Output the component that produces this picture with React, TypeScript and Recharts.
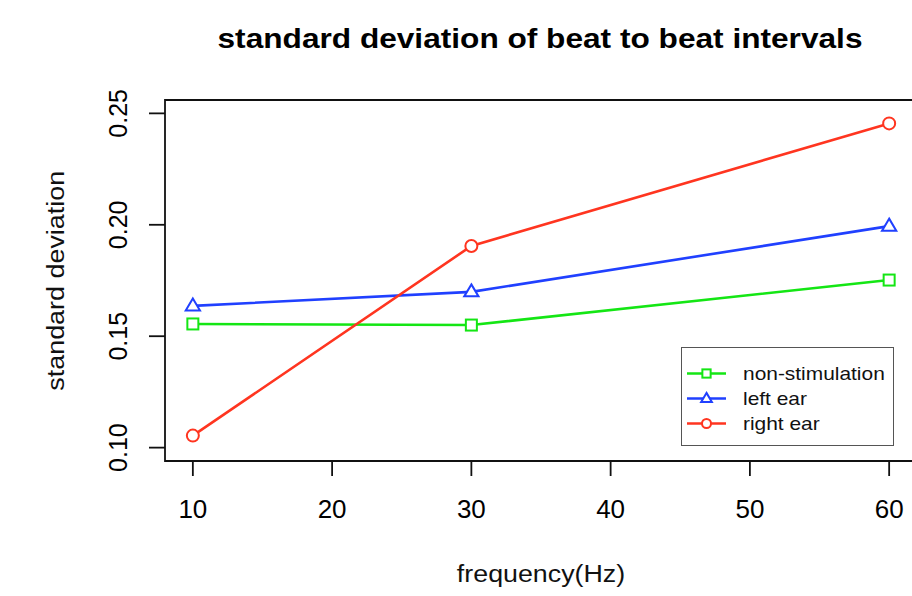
import React from 'react';
import { LineChart, Line, XAxis, YAxis, ReferenceArea } from 'recharts';

const frequencies = [10, 30, 60];
const nonStimulation = [0.1555, 0.155, 0.1752];
const leftEar = [0.1636, 0.1699, 0.1994];
const rightEar = [0.1054, 0.1905, 0.2455];

const xTicks = [10, 20, 30, 40, 50, 60];
const yTicks = [0.1, 0.15, 0.2, 0.25];

const seriesInfo = [
  { key: 'nonStim', name: 'non-stimulation', color: '#14e614', shape: 'square' },
  { key: 'left', name: 'left ear', color: '#2040ff', shape: 'triangle' },
  { key: 'right', name: 'right ear', color: '#ff3520', shape: 'circle' },
];

const data = frequencies.map((f, i) => ({
  freq: f,
  nonStim: nonStimulation[i],
  left: leftEar[i],
  right: rightEar[i],
}));

const FONT = '"Liberation Sans", Arial, Helvetica, sans-serif';

const Marker = ({ shape, cx, cy, color, size = 1 }: any) => {
  if (shape === 'square') {
    const h = 5.5 * size;
    return <rect x={cx - h} y={cy - h} width={h * 2} height={h * 2} fill="#fff" stroke={color} strokeWidth={2} />;
  }
  if (shape === 'triangle') {
    const r = 7.5 * size;
    const pts = `${cx},${cy - r} ${cx + r * 0.95},${cy + r * 0.6} ${cx - r * 0.95},${cy + r * 0.6}`;
    return <polygon points={pts} fill="#fff" stroke={color} strokeWidth={2} />;
  }
  return <circle cx={cx} cy={cy} r={6 * size} fill="#fff" stroke={color} strokeWidth={2} />;
};

const makeDot = (shape: string, color: string) => (props: any) => {
  const { cx, cy, index } = props;
  return (
    <g key={`${shape}-${index}`}>
      <Marker shape={shape} cx={cx} cy={cy} color={color} />
    </g>
  );
};

const XTick = ({ x, y, payload }: any) => (
  <text x={x} y={y + 40} textAnchor="middle" fontSize={26} fontFamily={FONT} fill="#000">
    {payload.value}
  </text>
);

const YTick = ({ x, y, payload }: any) => {
  const bx = x - 20;
  return (
    <text
      x={bx}
      y={y}
      textAnchor="middle"
      fontSize={25}
      fontFamily={FONT}
      fill="#000"
      transform={`rotate(-90, ${bx}, ${y})`}
    >
      {payload.value.toFixed(2)}
    </text>
  );
};

const App: React.FC = () => {
  return (
    <div style={{
      position: 'absolute', left: 0, top: 0, width: 912, height: 596,
      overflow: 'hidden', background: '#fff', fontFamily: FONT,
    }}>
      <div style={{
        position: 'absolute', left: 0, width: 1080, top: 25, fontSize: 27.5, lineHeight: 1,
        fontWeight: 'bold', textAlign: 'center', whiteSpace: 'nowrap', transform: 'scaleX(1.15)',
      }}>
        standard deviation of beat to beat intervals
      </div>

      <LineChart width={940} height={596} data={data} margin={{ top: 100, right: 23, bottom: 10, left: 0 }}>
        <ReferenceArea
          x1={8} x2={62} y1={0.094} y2={0.256}
          fill="none" stroke="#111" strokeWidth={1.8} ifOverflow="visible"
        />
        <XAxis
          type="number"
          dataKey="freq"
          domain={[8, 62]}
          ticks={xTicks}
          allowDataOverflow
          height={125}
          axisLine={false}
          tickSize={15}
          tickLine={{ stroke: '#111', strokeWidth: 1.8 }}
          tick={<XTick />}
          interval={0}
        />
        <YAxis
          type="number"
          domain={[0.094, 0.256]}
          ticks={yTicks}
          allowDataOverflow
          width={165}
          axisLine={false}
          tickSize={16}
          tickLine={{ stroke: '#111', strokeWidth: 1.8 }}
          tick={<YTick />}
          interval={0}
        />
        {seriesInfo.map((s) => (
          <Line
            key={s.key}
            type="linear"
            dataKey={s.key}
            name={s.name}
            stroke={s.color}
            strokeWidth={2.6}
            dot={makeDot(s.shape, s.color)}
            activeDot={false}
            isAnimationActive={false}
          />
        ))}
      </LineChart>

      <div style={{
        position: 'absolute', left: 541 - 200, width: 400, top: 563, fontSize: 23.5, lineHeight: 1,
        textAlign: 'center', whiteSpace: 'nowrap', transform: 'scaleX(1.14)', color: '#111',
      }}>
        frequency(Hz)
      </div>
      <div style={{
        position: 'absolute', left: 57 - 200, width: 400, top: 281 - 11.75, height: 23.5, fontSize: 23.5,
        lineHeight: 1, textAlign: 'center', whiteSpace: 'nowrap',
        transform: 'rotate(-90deg) scaleX(1.145)', color: '#111',
      }}>
        standard deviation
      </div>

      <div style={{
        position: 'absolute', left: 681, top: 347, width: 213, height: 99,
        border: '1.5px solid #555', background: '#fff', boxSizing: 'border-box',
      }}>
        {seriesInfo.map((s, i) => (
          <div key={s.key} style={{ position: 'absolute', left: 0, top: 13 + i * 25, height: 25, width: 210 }}>
            <svg width={50} height={25} style={{ position: 'absolute', left: 4, top: 0 }}>
              <line x1={1} x2={40} y1={12.5} y2={12.5} stroke={s.color} strokeWidth={2.4} />
              <Marker shape={s.shape} cx={20.5} cy={12.5} color={s.color} size={0.75} />
            </svg>
            <div style={{
              position: 'absolute', left: 61, top: 4, fontSize: 18.5, lineHeight: 1, whiteSpace: 'nowrap',
              transform: 'scaleX(1.13)', transformOrigin: 'left center', color: '#111',
            }}>
              {s.name}
            </div>
          </div>
        ))}
      </div>
    </div>
  );
};

export default App;
